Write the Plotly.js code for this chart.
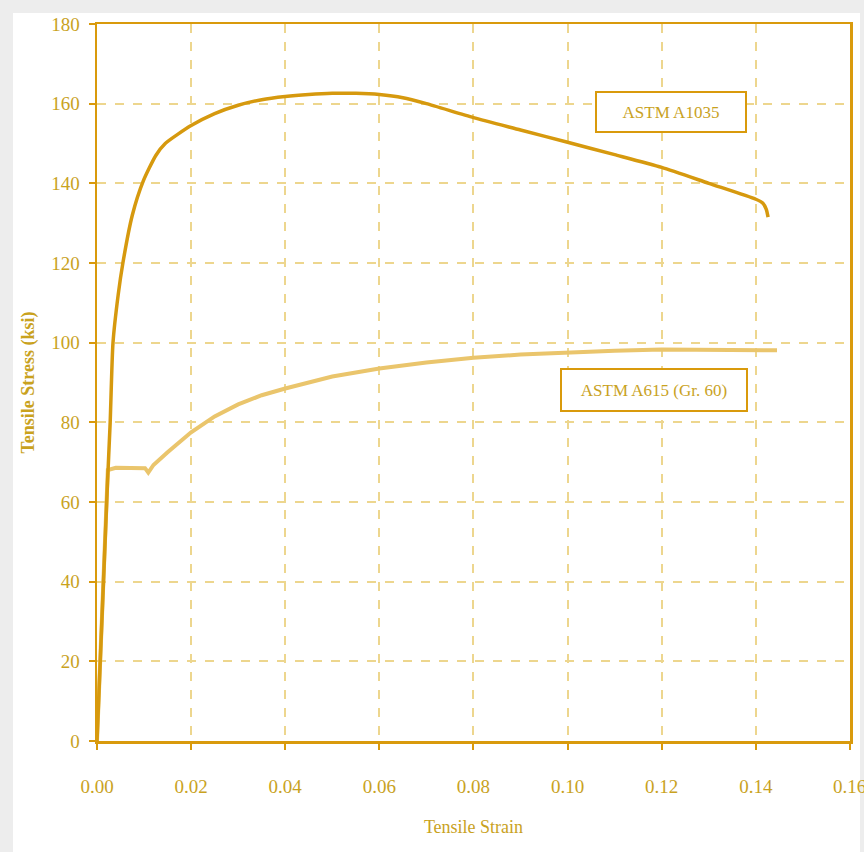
<!DOCTYPE html>
<html>
<head>
<meta charset="utf-8">
<script src="https://cdn.plot.ly/plotly-3.0.1.min.js"></script>
<style>html,body{margin:0;padding:0;background:#fff;}#chart{width:864px;height:852px;}</style>
</head>
<body>
<div id="chart"></div>
<script>
// ASTM A1035 stress-strain curve (strain, ksi)
const a1035Strain = [0, 0.0022, 0.0028, 0.0034, 0.0045, 0.0055, 0.0075, 0.0098, 0.0125, 0.0145, 0.02, 0.025, 0.03, 0.035, 0.04, 0.045, 0.05, 0.055, 0.06, 0.065, 0.07, 0.08, 0.09, 0.10, 0.11, 0.12, 0.13, 0.14, 0.1415, 0.1422, 0.1426];
const a1035Stress = [0, 64, 80, 100, 112, 120, 132, 140.5, 147, 150, 154.5, 157.5, 159.6, 161, 161.8, 162.3, 162.6, 162.6, 162.3, 161.5, 160, 156.5, 153.4, 150.3, 147.2, 144, 140, 136, 135, 133.5, 131.5];

// ASTM A615 (Gr. 60) stress-strain curve
const a615Strain = [0, 0.0023, 0.004, 0.006, 0.008, 0.0102, 0.0109, 0.012, 0.015, 0.02, 0.025, 0.03, 0.035, 0.04, 0.05, 0.06, 0.07, 0.08, 0.09, 0.10, 0.11, 0.12, 0.13, 0.14, 0.1445];
const a615Stress = [0, 68, 68.6, 68.6, 68.5, 68.5, 67.4, 69.3, 72.5, 77.5, 81.5, 84.5, 86.8, 88.5, 91.5, 93.5, 95, 96.2, 97, 97.6, 98, 98.3, 98.3, 98.2, 98.1];

const seriesNames = ["ASTM A1035", "ASTM A615 (Gr. 60)"];
const xTicks = [0, 0.02, 0.04, 0.06, 0.08, 0.10, 0.12, 0.14, 0.16];
const xTickText = ["0.00", "0.02", "0.04", "0.06", "0.08", "0.10", "0.12", "0.14", "0.16"];
const yTicks = [0, 20, 40, 60, 80, 100, 120, 140, 160, 180];

const textColor = '#C9A21E';
const axisColor = '#D99A0C';
const gridColor = '#EDD68E';
const serif = '"Liberation Serif", "DejaVu Serif", serif';

const traces = [
  {x: a615Strain, y: a615Stress, mode: 'lines', name: seriesNames[1],
   line: {color: '#EAC56C', width: 4}},
  {x: a1035Strain, y: a1035Stress, mode: 'lines', name: seriesNames[0], line: {color: '#D6990E', width: 3.5, shape: 'spline', smoothing: 0.6}}
];

const lastIdx = xTicks.length - 1;

const layout = {
  width: 864, height: 852,
  margin: {l: 97, r: 14, t: 24, b: 111},
  paper_bgcolor: '#EDEDED',
  plot_bgcolor: '#FFFFFF',
  showlegend: false,
  font: {family: serif, color: textColor, size: 18},
  xaxis: {
    range: [0, 0.16001], tickvals: xTicks, ticktext: xTickText,
    showline: true, linecolor: axisColor, linewidth: 2.5, mirror: true,
    ticks: 'outside', ticklen: 6, tickcolor: axisColor, tickwidth: 2,
    showgrid: true, gridcolor: gridColor, griddash: 'dash', gridwidth: 2,
    zeroline: false, ticklabelstandoff: 21,
    tickfont: {family: serif, size: 19, color: textColor},
    title: {text: 'Tensile Strain', font: {family: serif, size: 18, color: textColor}, standoff: 24}
  },
  yaxis: {
    range: [0, 180], tickvals: yTicks,
    showline: true, linecolor: axisColor, linewidth: 2.5, mirror: true,
    ticks: 'outside', ticklen: 6, tickcolor: axisColor, tickwidth: 2,
    showgrid: true, gridcolor: gridColor, griddash: 'dash', gridwidth: 2,
    zeroline: false, ticklabelstandoff: 5,
    tickfont: {family: serif, size: 19, color: textColor},
    title: {text: '<b>Tensile Stress (ksi)</b>', font: {family: serif, size: 18, color: textColor}, standoff: 12}
  },
  shapes: [
    {type: 'rect', xref: 'paper', yref: 'paper', layer: 'below',
     x0: (13 - 97) / 753, x1: (860 - 97) / 753, y0: (741 - 852) / 717, y1: (741 - 13) / 717,
     fillcolor: '#FFFFFF', line: {width: 0}}
  ],
  annotations: [
    {x: 0.1219, y: 158, xref: 'x', yref: 'y', text: seriesNames[0], showarrow: false,
     font: {family: serif, size: 17, color: textColor},
     bgcolor: '#FFFFFF', bordercolor: axisColor, borderwidth: 2, borderpad: 4,
     width: 140, height: 30},
    {x: 0.1183, y: 88, xref: 'x', yref: 'y', text: seriesNames[1], showarrow: false,
     font: {family: serif, size: 17, color: textColor},
     bgcolor: '#FFFFFF', bordercolor: axisColor, borderwidth: 2, borderpad: 4,
     width: 176, height: 32},
    {x: xTicks[lastIdx], y: -0.064, xref: 'x', yref: 'paper', text: xTickText[lastIdx], showarrow: false,
     xanchor: 'center', yanchor: 'middle', font: {family: serif, size: 19, color: textColor}}
  ]
};

Plotly.newPlot('chart', traces, layout, {displayModeBar: false, staticPlot: true});
</script>
</body>
</html>
